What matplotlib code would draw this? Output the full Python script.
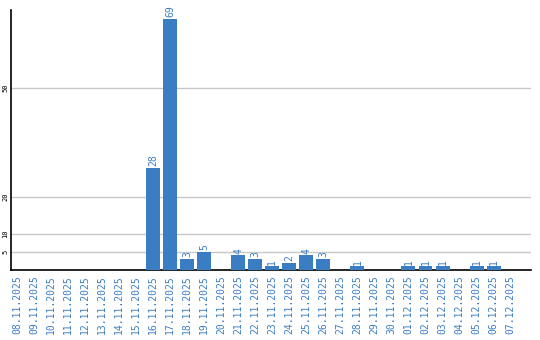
import matplotlib
matplotlib.use("Agg")
import matplotlib.pyplot as plt

dates = ["08.11.2025", "09.11.2025", "10.11.2025", "11.11.2025", "12.11.2025",
         "13.11.2025", "14.11.2025", "15.11.2025", "16.11.2025", "17.11.2025",
         "18.11.2025", "19.11.2025", "20.11.2025", "21.11.2025", "22.11.2025",
         "23.11.2025", "24.11.2025", "25.11.2025", "26.11.2025", "27.11.2025",
         "28.11.2025", "29.11.2025", "30.11.2025", "01.12.2025", "02.12.2025",
         "03.12.2025", "04.12.2025", "05.12.2025", "06.12.2025", "07.12.2025"]
counts = [0, 0, 0, 0, 0, 0, 0, 0, 28, 69,
          3, 5, 0, 4, 3, 1, 2, 4, 3, 0,
          1, 0, 0, 1, 1, 1, 0, 1, 1, 0]
yticks = [5, 10, 20, 50]

blue = "#3b7dc3"
font = "DejaVu Sans Mono"

fig = plt.figure(figsize=(5.4, 3.4), dpi=100)
ax = fig.add_axes([0.0204, 0.2059, 0.963, 0.7647])

x = range(len(dates))
bars = ax.bar(x, counts, width=0.82, color=blue, zorder=3)
for xi, c in zip(x, counts):
    if c > 0:
        ax.text(xi, c + 0.5, str(c), rotation=90, ha="center", va="bottom",
                color=blue, fontsize=7, family=font)

ax.set_xlim(-0.35, 30.2)
ax.set_ylim(0, 71.4)
ax.set_yticks(yticks)
ax.set_yticklabels([str(t) for t in yticks], rotation=90, va="center",
                   fontsize=5, family=font, color="black")
ax.set_xticks(list(x))
ax.set_xticklabels(dates, rotation=90, fontsize=7, family=font, color=blue)
ax.tick_params(axis="both", length=0)
ax.tick_params(axis="y", pad=2)
ax.tick_params(axis="x", pad=4)
ax.grid(axis="y", color="#c8c8c8", linewidth=1, zorder=0)
for s in ["top", "right"]:
    ax.spines[s].set_visible(False)
ax.spines["left"].set_linewidth(1.2)
ax.spines["bottom"].set_linewidth(1.2)

fig.savefig("out.png", dpi=100)
